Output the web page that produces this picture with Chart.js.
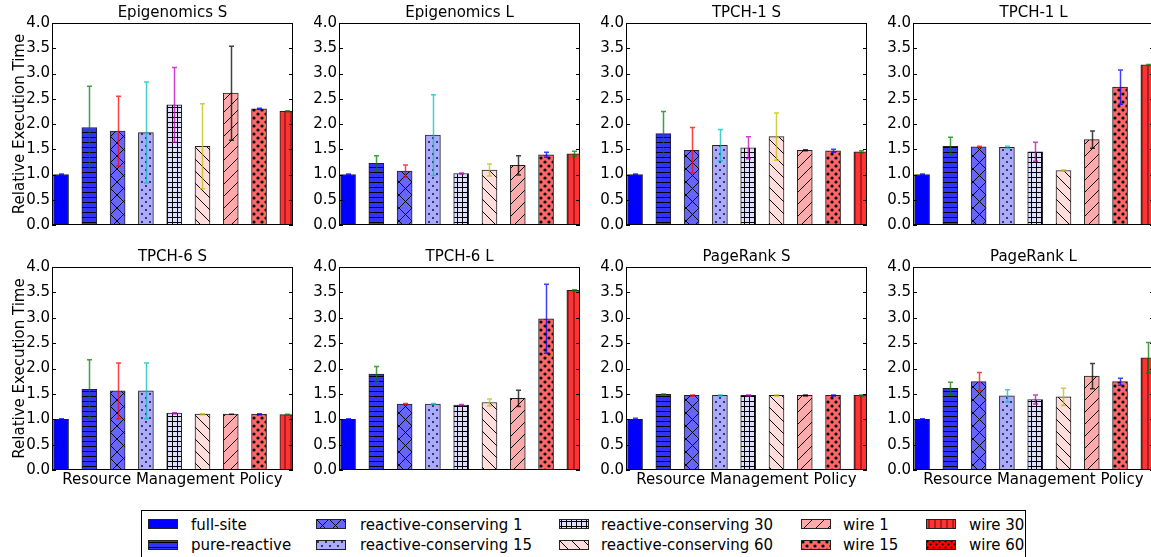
<!DOCTYPE html>
<html>
<head>
<meta charset="utf-8">
<script src="https://cdn.jsdelivr.net/npm/chart.js@4.4.1/dist/chart.umd.min.js"></script>
<style>
  html, body { margin: 0; padding: 0; background: #fff; width: 1151px; height: 557px; overflow: hidden; }
  body { position: relative; font-family: 'DejaVu Sans', sans-serif; }
  .panel { position: absolute; }
  #legend { position: absolute; left: 141px; top: 510px; width: 885px; height: 60px; border: 1px solid #000; box-sizing: border-box; }
  .sw { position: absolute; width: 30px; height: 10px; }
  .lt { position: absolute; font-size: 15px; line-height: 18px; color: #000; white-space: nowrap; }
</style>
</head>
<body>
<div id="legend"></div>
<script>
// policies (one bar per policy in every panel; the last one falls outside the x range)
const policies = ['full-site', 'pure-reactive', 'reactive-conserving 1', 'reactive-conserving 15',
  'reactive-conserving 30', 'reactive-conserving 60', 'wire 1', 'wire 15', 'wire 30', 'wire 60'];
const fills = ['#0000ff', '#3333ff', '#6666ff', '#aaaaff', '#ddddff', '#ffdddd', '#ffaaaa', '#ff6666', '#ff3333', '#ff0000'];
const hatches = ['none', 'hline', 'cross', 'dots', 'grid', 'back', 'fwd', 'bigdots', 'vline', 'stars'];
const errColors = ['rgba(0,0,255,0.75)', 'rgba(0,128,0,0.75)', 'rgba(255,0,0,0.75)', 'rgba(0,191,191,0.75)',
  'rgba(191,0,191,0.75)', 'rgba(191,191,0,0.75)', 'rgba(0,0,0,0.75)', 'rgba(0,0,255,0.75)', 'rgba(0,128,0,0.75)', 'rgba(255,0,0,0.75)'];

const panelTitles = ['Epigenomics S', 'Epigenomics L', 'TPCH-1 S', 'TPCH-1 L', 'TPCH-6 S', 'TPCH-6 L', 'PageRank S', 'PageRank L'];
const yTicks = [0, 0.5, 1, 1.5, 2, 2.5, 3, 3.5, 4];

const epigenomicsS    = [1.00, 1.93, 1.86, 1.83, 2.38, 1.56, 2.61, 2.30, 2.25, null];
const epigenomicsSErr = [0.01, 0.82, 0.69, 1.00, 0.74, 0.84, 0.93, 0.01, 0.01, null];
const epigenomicsL    = [1.00, 1.22, 1.07, 1.78, 1.02, 1.09, 1.18, 1.39, 1.41, null];
const epigenomicsLErr = [0.01, 0.15, 0.12, 0.80, 0.01, 0.12, 0.19, 0.05, 0.05, null];
const tpch1S    = [1.00, 1.81, 1.48, 1.58, 1.53, 1.75, 1.48, 1.47, 1.45, null];
const tpch1SErr = [0.01, 0.44, 0.45, 0.31, 0.22, 0.47, 0.01, 0.03, 0.02, null];
const tpch1L    = [1.00, 1.56, 1.55, 1.54, 1.45, 1.08, 1.69, 2.73, 3.17, null];
const tpch1LErr = [0.01, 0.18, 0.01, 0.02, 0.19, 0.01, 0.17, 0.34, 0.01, null];
const tpch6S    = [1.00, 1.59, 1.56, 1.56, 1.12, 1.10, 1.10, 1.10, 1.09, null];
const tpch6SErr = [0.01, 0.58, 0.55, 0.55, 0.01, 0.01, 0.00, 0.01, 0.01, null];
const tpch6L    = [1.00, 1.89, 1.30, 1.30, 1.28, 1.33, 1.41, 2.98, 3.54, null];
const tpch6LErr = [0.01, 0.15, 0.01, 0.01, 0.01, 0.07, 0.16, 0.68, 0.01, null];
const pagerankS    = [1.00, 1.49, 1.47, 1.47, 1.47, 1.47, 1.47, 1.47, 1.47, null];
const pagerankSErr = [0.02, 0.01, 0.01, 0.01, 0.01, 0.01, 0.01, 0.01, 0.01, null];
const pagerankL    = [1.00, 1.61, 1.74, 1.46, 1.39, 1.44, 1.85, 1.74, 2.21, null];
const pagerankLErr = [0.01, 0.12, 0.18, 0.12, 0.09, 0.17, 0.25, 0.07, 0.30, null];

const panelValues = [epigenomicsS, epigenomicsL, tpch1S, tpch1L, tpch6S, tpch6L, pagerankS, pagerankL];
const panelErrors = [epigenomicsSErr, epigenomicsLErr, tpch1SErr, tpch1LErr, tpch6SErr, tpch6LErr, pagerankSErr, pagerankLErr];

Chart.defaults.font.family = "'DejaVu Sans', sans-serif";
Chart.defaults.font.size = 15;
Chart.defaults.color = '#000';

// hatch tiles, roughly like matplotlib hatches
function hatchTile(color, kind) {
  const sizes = { hline: 5, cross: 13, dots: 8, grid: 5, back: 12, fwd: 12, bigdots: 8, vline: 6, stars: 6 };
  const s = sizes[kind] || 4;
  const c = document.createElement('canvas');
  c.width = s; c.height = s;
  const g = c.getContext('2d');
  g.fillStyle = color;
  g.fillRect(0, 0, s, s);
  g.strokeStyle = '#000';
  g.fillStyle = '#000';
  g.lineWidth = 1;
  const line = (x0, y0, x1, y1) => { g.beginPath(); g.moveTo(x0, y0); g.lineTo(x1, y1); g.stroke(); };
  const dot = (x, y, r) => { g.beginPath(); g.arc(x, y, r, 0, Math.PI * 2); g.fill(); };
  if (kind === 'hline') line(0, 2.5, s, 2.5);
  if (kind === 'grid') { line(0, 2.5, s, 2.5); line(2.5, 0, 2.5, s); }
  if (kind === 'vline') { g.strokeStyle = 'rgba(60,0,0,0.8)'; line(3, 0, 3, s); }
  if (kind === 'fwd' || kind === 'cross') { line(-1, s + 1, s + 1, -1); line(-1, 1, 1, -1); line(s - 1, s + 1, s + 1, s - 1); }
  if (kind === 'back' || kind === 'cross') { line(-1, -1, s + 1, s + 1); line(s - 1, -1, s + 1, 1); line(-1, s - 1, 1, s + 1); }
  if (kind === 'dots') { dot(2, 2, 0.9); dot(6, 6, 0.9); }
  if (kind === 'bigdots') { dot(2, 2, 1.6); dot(6, 6, 1.6); }
  if (kind === 'stars') { dot(1.5, 1.5, 1.1); dot(4.5, 4.5, 1.1); }
  return c;
}

const patternCtx = document.createElement('canvas').getContext('2d');
const barFills = fills.map((f, i) => hatches[i] === 'none' ? f : patternCtx.createPattern(hatchTile(f, hatches[i]), 'repeat'));

// spines on all four sides with inward y ticks
const framePlugin = {
  id: 'frame',
  afterDraw(chart) {
    const { ctx, chartArea: a, scales: { y } } = chart;
    ctx.save();
    ctx.strokeStyle = '#000';
    ctx.lineWidth = 1;
    ctx.strokeRect(a.left + 0.5, a.top + 0.5, a.right - a.left - 1, a.bottom - a.top - 1);
    y.ticks.forEach(t => {
      const py = Math.round(y.getPixelForValue(t.value)) + 0.5;
      ctx.beginPath();
      ctx.moveTo(a.left, py); ctx.lineTo(a.left + 4, py);
      ctx.moveTo(a.right - 4, py); ctx.lineTo(a.right, py);
      ctx.stroke();
    });
    ctx.restore();
  }
};

// symmetric error bars with caps
const errorBarPlugin = {
  id: 'errorBars',
  afterDatasetsDraw(chart) {
    const { ctx, chartArea: a, scales: { x, y } } = chart;
    const ds = chart.data.datasets[0];
    ctx.save();
    ctx.beginPath();
    ctx.rect(a.left, a.top, a.right - a.left, a.bottom - a.top);
    ctx.clip();
    ds.data.forEach((p, i) => {
      if (p.y == null) return;
      const e = ds.errors[i];
      const px = Math.round(x.getPixelForValue(p.x)) + 0.5;
      const yHi = y.getPixelForValue(p.y + e);
      const yLo = y.getPixelForValue(p.y - e);
      ctx.strokeStyle = errColors[i];
      ctx.lineWidth = 1.5;
      ctx.beginPath();
      ctx.moveTo(px, yLo); ctx.lineTo(px, yHi);
      ctx.moveTo(px - 2.5, yHi); ctx.lineTo(px + 2.5, yHi);
      ctx.moveTo(px - 2.5, yLo); ctx.lineTo(px + 2.5, yLo);
      ctx.stroke();
    });
    ctx.restore();
  }
};

const axisLefts = [52, 339, 626, 913];
const axisTops = [23, 267];
const plotW = 241, plotH = 203;

function buildPanel(idx) {
  const col = idx % 4, row = Math.floor(idx / 4);
  const yw = col === 0 ? 52 : 44;
  const xh = row === 1 ? 22 : 10;
  const cv = document.createElement('canvas');
  cv.className = 'panel';
  cv.width = yw + plotW + 2;
  cv.height = 4 + 19 + plotH + xh;
  document.body.appendChild(cv);

  const chart = new Chart(cv, {
    type: 'bar',
    data: {
      datasets: [{
        data: panelValues[idx].map((v, i) => ({ x: i, y: v })),
        errors: panelErrors[idx],
        backgroundColor: barFills,
        borderColor: '#222',
        borderWidth: 1,
        barThickness: 15,
        clip: 0
      }]
    },
    options: {
      responsive: false,
      maintainAspectRatio: false,
      animation: false,
      events: [],
      layout: { padding: { top: 4, right: 2, left: 0, bottom: 0 } },
      plugins: {
        legend: { display: false },
        tooltip: { enabled: false },
        title: { display: true, fullSize: false, text: panelTitles[idx], color: '#000', font: { size: 15, weight: 'normal' }, padding: { top: 0, bottom: 1 } }
      },
      scales: {
        x: {
          type: 'linear', min: -0.32, max: 8.2, offset: false,
          grid: { display: false, drawTicks: false },
          border: { display: false },
          ticks: { display: false },
          title: { display: row === 1 && col !== 1, text: 'Resource Management Policy', color: '#000', font: { size: 15 }, padding: { top: 0, bottom: 3 } },
          afterFit: s => { s.height = xh; }
        },
        y: {
          min: 0, max: 4,
          afterBuildTicks: s => { s.ticks = yTicks.map(v => ({ value: v })); },
          grid: { display: false, drawTicks: false },
          border: { display: false },
          ticks: { callback: v => v.toFixed(1), color: '#000', font: { size: 15 }, padding: 2 },
          title: { display: col === 0, text: 'Relative Execution Time', color: '#000', font: { size: 15 }, padding: { top: 11, bottom: 0 } },
          afterFit: s => { s.width = yw; }
        }
      }
    },
    plugins: [errorBarPlugin, framePlugin]
  });
  const a = chart.chartArea;
  cv.style.left = (axisLefts[col] - a.left) + 'px';
  cv.style.top = (axisTops[row] - a.top) + 'px';
}

panelTitles.forEach((t, i) => buildPanel(i));

// legend: 5 columns x 2 rows, column-major
const legend = document.getElementById('legend');
const swLefts = [6, 174, 417, 659, 784];
const txLefts = [49, 218, 459, 701, 827];
const swTops = [8, 29];
const txTops = [5, 25];
policies.forEach((p, i) => {
  const col = Math.floor(i / 2), row = i % 2;
  const sw = document.createElement('canvas');
  sw.width = 30; sw.height = 10;
  sw.className = 'sw';
  sw.style.left = swLefts[col] + 'px';
  sw.style.top = swTops[row] + 'px';
  const g = sw.getContext('2d');
  g.fillStyle = hatches[i] === 'none' ? fills[i] : g.createPattern(hatchTile(fills[i], hatches[i]), 'repeat');
  g.fillRect(0, 0, 30, 10);
  g.strokeStyle = '#222';
  g.strokeRect(0.5, 0.5, 29, 9);
  legend.appendChild(sw);
  const tx = document.createElement('div');
  tx.className = 'lt';
  tx.textContent = p;
  tx.style.left = txLefts[col] + 'px';
  tx.style.top = txTops[row] + 'px';
  legend.appendChild(tx);
});
</script>
</body>
</html>
